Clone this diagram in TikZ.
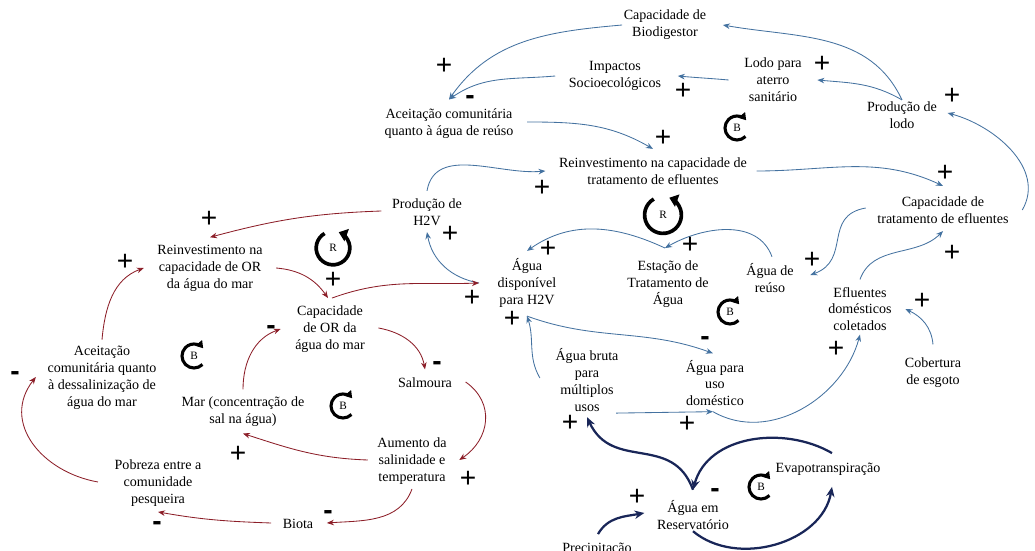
\documentclass[tikz,border=0pt]{standalone}
\usepackage{fontspec}
\setmainfont{Liberation Serif}
\setsansfont{Liberation Sans}
\usetikzlibrary{arrows.meta,calc}

\definecolor{azul}{RGB}{68,114,160}
\definecolor{vinho}{RGB}{140,30,40}
\definecolor{marinho}{RGB}{25,38,88}

\begin{document}
\begin{tikzpicture}[x=0.025cm, y=0.025cm,
    var/.style={align=center, inner sep=1pt, font=\fontsize{10}{12}\selectfont},
    sgnp/.style={inner sep=0pt, font=\sffamily\fontsize{20}{20}\selectfont},
    sgnn/.style={inner sep=0pt, font=\sffamily\bfseries\fontsize{20}{20}\selectfont},
    blink/.style={-{Stealth[length=5pt,width=4pt]}, azul, line width=0.6pt},
    rlink/.style={-{Stealth[length=5pt,width=4pt]}, vinho, line width=0.6pt},
    nlink/.style={-{Stealth[length=7pt,width=6pt]}, marinho, line width=1.6pt},
    loopmark/.style={inner sep=0pt, font=\fontsize{8}{8}\selectfont},
    loopR/.style={-{Triangle[length=6pt,width=9pt]}, line width=2.6pt},
    loopB/.style={-{Triangle[length=5pt,width=6pt]}, line width=2.2pt}
]
\useasboundingbox (0,0) rectangle (1035,-551);

% variaveis
\node[var] (capbio) at (665,-25) {Capacidade de\\Biodigestor};
\node[var] (impactos) at (615,-76) {Impactos\\Socioecológicos};
\node[var] (lodo) at (773,-80) {Lodo para\\aterro\\sanitário};
\node[var] (prodlodo) at (902,-115) {Produção de\\lodo};
\node[var] (aceitreuso) at (449,-124) {Aceitação comunitária\\quanto à água de reúso};
\node[var] (reinvtrat) at (653,-171) {Reinvestimento na capacidade de\\tratamento de efluentes};
\node[var] (captrat) at (943,-210) {Capacidade de\\tratamento de efluentes};
\node[var] (prodh2v) at (427,-212) {Produção de\\H2V};
\node[var] (reinvor) at (210,-268) {Reinvestimento na\\capacidade de OR\\da água do mar};
\node[var] (capor) at (330,-329) {Capacidade\\de OR da\\água do mar};
\node[var] (aguadisp) at (527,-283) {Água\\disponível\\para H2V};
\node[var] (eta) at (668,-284) {Estação de\\Tratamento de\\Água};
\node[var] (reuso) at (770,-278) {Água de\\reúso};
\node[var] (efluentes) at (860,-309) {Efluentes\\domésticos\\coletados};
\node[var] (esgoto) at (933,-373) {Cobertura\\de esgoto};
\node[var] (bruta) at (587,-380) {Água bruta\\para\\múltiplos\\usos};
\node[var] (domestico) at (715,-383) {Água para\\uso\\doméstico};
\node[var] (aceitor) at (102,-378) {Aceitação\\comunitária quanto\\à dessalinização de\\água do mar};
\node[var] (mar) at (243,-412) {Mar (concentração de\\sal na água)};
\node[var] (salmoura) at (425,-383) {Salmoura};
\node[var] (aumento) at (412,-461) {Aumento da\\salinidade e\\temperatura};
\node[var] (pobreza) at (158,-483) {Pobreza entre a\\comunidade\\pesqueira};
\node[var] (biota) at (298,-524) {Biota};
\node[var] (evapo) at (828,-469) {Evapotranspiração};
\node[var] (reserv) at (693,-515) {Água em\\Reservatório};
\node[var] (precip) at (597,-549) {Precipitação};

% ligacoes azuis
\draw[blink] (prodlodo.north) to[out=115, in=-10] ($(capbio.east)+(15,0)$);
\draw[blink] (capbio.west) to[out=185, in=55] ($(aceitreuso.north)+(0,8)$);
\draw[blink] ($(impactos.west)+(-12,0)$) to[out=185, in=35] ($(aceitreuso.north)+(0,8)$);
\draw[blink] ($(lodo.west)+(-14,0)$) to[out=175, in=-5] ($(impactos.east)+(15,0)$);
\draw[blink] (prodlodo.north) to[out=150, in=-5] ($(lodo.east)+(14,0)$);
\draw[blink] ($(captrat.east)+(12,0)$) to[out=60, in=-15] ($(prodlodo.east)+(9,2)$);
\draw[blink] ($(aceitreuso.east)+(12,2)$) to[out=0, in=150] ($(reinvtrat.north)+(0,7)$);
\draw[blink] ($(prodh2v.north)+(0,6)$) to[out=80, in=185] ($(reinvtrat.west)+(-12,0)$);
\draw[blink] ($(reinvtrat.east)+(8,0)$) to[out=0, in=155] ($(captrat.north)+(0,9)$);
\draw[blink] ($(captrat.west)+(-10,2)$) to[out=190, in=20, looseness=1.3] ($(reuso.east)+(15,3)$);
\draw[blink] ($(efluentes.north)+(0,6)$) to[out=70, in=225] ($(captrat.south)+(0,-6)$);
\draw[blink] ($(esgoto.north)+(0,12)$) to[out=95, in=-25] ($(efluentes.east)+(12,0)$);
\draw[blink] ($(domestico.south)+(-2,-4)$) to[out=-30, in=-105] ($(efluentes.south)+(0,-2)$);
\draw[blink] ($(bruta.south east)+(-4,0)$) -- ($(domestico.south)+(-2,-4)$);
\draw[blink] ($(bruta.west)+(-14,2)$) to[out=120, in=-72] ($(aguadisp.south)+(0,-7)$);
\draw[blink] ($(aguadisp.south)+(0,-7)$) to[out=-20, in=160] ($(domestico.north)+(-2,5)$);
\draw[blink] ($(eta.north)+(-3,11)$) to[out=155, in=35] ($(aguadisp.north)+(0,6)$);
\draw[blink] ($(reuso.north)+(2,5)$) to[out=110, in=30] ($(eta.north)+(-3,11)$);
\draw[blink] ($(aguadisp.west)+(-17,0)$) to[out=170, in=-80] ($(prodh2v.south)+(0,-5)$);

% ligacoes vermelhas
\draw[rlink] ($(prodh2v.west)+(-9,1)$) to[out=182, in=15] ($(reinvor.north)+(0,6)$);
\draw[rlink] ($(reinvor.east)+(12,0)$) to[out=-5, in=125] ($(capor.north)+(-2,6)$);
\draw[rlink] ($(capor.north)+(2,6)$) to[out=20, in=182] ($(aguadisp.west)+(-17,0)$);
\draw[rlink] ($(aceitor.north)+(0,5)$) to[out=85, in=200] ($(reinvor.west)+(-12,0)$);
\draw[rlink] ($(mar.north)+(0,6)$) to[out=90, in=200] ($(capor.west)+(-13,0)$);
\draw[rlink] ($(capor.east)+(12,1)$) to[out=-10, in=100] ($(salmoura.north)+(0,7)$);
\draw[rlink] ($(salmoura.east)+(12,1)$) to[out=-35, in=34, looseness=1.2] ($(aumento.east)+(11,1)$);
\draw[rlink] ($(aumento.west)+(-8,1)$) to[out=178, in=-18] ($(mar.south)+(0,-5)$);
\draw[rlink] ($(aumento.south)+(0,-3)$) to[out=-110, in=4] ($(biota.east)+(12,1)$);
\draw[rlink] ($(biota.west)+(-10,1)$) to[out=178, in=-10] ($(pobreza.south)+(0,-4)$);
\draw[rlink] ($(pobreza.west)+(-15,1)$) to[out=170, in=-128, looseness=1.2] ($(aceitor.west)+(-10,1)$);

% ligacoes do reservatorio
\draw[nlink] ($(reserv.north)+(0,9)$) to[out=110, in=-65, looseness=1.2] ($(bruta.south)+(0,-4)$);
\draw[nlink] ($(evapo.north)+(4,8)$) to[out=150, in=75] ($(reserv.north)+(0,9)$);
\draw[nlink] (reserv.south) to[out=-40, in=-100] ($(evapo.south)+(4,-10)$);
\draw[nlink] ($(precip.north)+(1,7)$) to[out=60, in=190] ($(reserv.west)+(-11,2)$);

% polaridades
\node[sgnp] (p1) at (444,-66) {+};
\node[sgnp] (p2) at (822,-64) {+};
\node[sgnp] (p3) at (683,-91) {+};
\node[sgnp] (p4) at (952,-96) {+};
\node[sgnp] (p5) at (663,-138) {+};
\node[sgnp] (p6) at (945,-173) {+};
\node[sgnp] (p7) at (542,-188) {+};
\node[sgnp] (p8) at (209,-219) {+};
\node[sgnp] (p9) at (450,-234) {+};
\node[sgnp] (p10) at (548,-249) {+};
\node[sgnp] (p11) at (690,-245) {+};
\node[sgnp] (p12) at (812,-260) {+};
\node[sgnp] (p13) at (472,-298) {+};
\node[sgnp] (p14) at (333,-280) {+};
\node[sgnp] (p15) at (125,-262) {+};
\node[sgnp] (p16) at (512,-319) {+};
\node[sgnp] (p17) at (952,-253) {+};
\node[sgnp] (p18) at (922,-301) {+};
\node[sgnp] (p19) at (836,-349) {+};
\node[sgnp] (p20) at (570,-423) {+};
\node[sgnp] (p21) at (687,-424) {+};
\node[sgnp] (p22) at (238,-454) {+};
\node[sgnp] (p23) at (468,-479) {+};
\node[sgnp] (p24) at (637,-497) {+};
\node[sgnn] (m1) at (470,-100) {-};
\node[sgnn] (m2) at (705,-341) {-};
\node[sgnn] (m3) at (271,-330) {-};
\node[sgnn] (m4) at (437,-366) {-};
\node[sgnn] (m5) at (15,-376) {-};
\node[sgnn] (m6) at (328,-515) {-};
\node[sgnn] (m7) at (157,-526) {-};
\node[sgnn] (m8) at (715,-493) {-};

% lacos
\node[loopmark] (r1) at (333,-248) {R};
\draw[loopR] ($(r1)+(120:0.42cm)$) arc[start angle=120, end angle=430, radius=0.42cm];
\node[loopmark] (r2) at (663,-215) {R};
\draw[loopR] ($(r2)+(120:0.46cm)$) arc[start angle=120, end angle=430, radius=0.46cm];
\node[loopmark] (b1) at (737,-128) {B};
\draw[loopB] ($(b1)+(-45:0.3cm)$) arc[start angle=-45, end angle=-320, radius=0.3cm];
\node[loopmark] (b2) at (730,-312) {B};
\draw[loopB] ($(b2)+(-45:0.3cm)$) arc[start angle=-45, end angle=-320, radius=0.3cm];
\node[loopmark] (b3) at (194,-356) {B};
\draw[loopB] ($(b3)+(-45:0.3cm)$) arc[start angle=-45, end angle=-320, radius=0.3cm];
\node[loopmark] (b4) at (343,-406) {B};
\draw[loopB] ($(b4)+(-45:0.3cm)$) arc[start angle=-45, end angle=-320, radius=0.3cm];
\node[loopmark] (b5) at (761,-487) {B};
\draw[loopB] ($(b5)+(-45:0.3cm)$) arc[start angle=-45, end angle=-320, radius=0.3cm];
\end{tikzpicture}
\end{document}
